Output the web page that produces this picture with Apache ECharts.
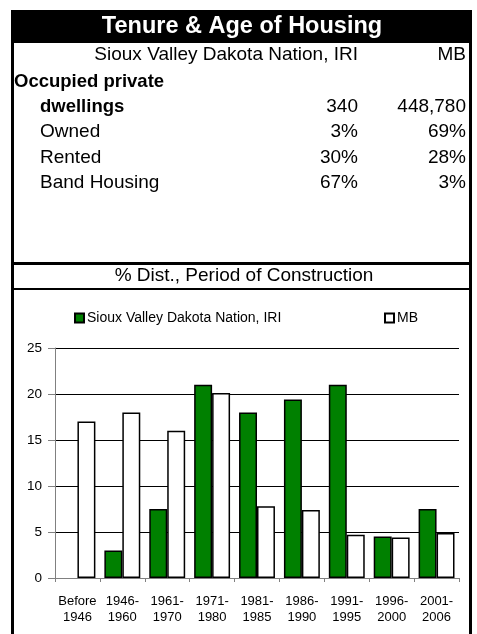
<!DOCTYPE html>
<html>
<head>
<meta charset="utf-8">
<script src="https://cdn.jsdelivr.net/npm/echarts@6/dist/echarts.min.js"></script>
<style>
html,body{margin:0;padding:0;background:#fff;}
#c{width:477px;height:634px;}
</style>
</head>
<body>
<div id="c"></div>
<script>
// ---- Data ----
var title = 'Tenure & Age of Housing';
var colHeaders = ['Sioux Valley Dakota Nation, IRI', 'MB'];
var rowLabels = ['Owned', 'Rented', 'Band Housing'];
var dwellings = ['340', '448,780'];
var localShares = ['3%', '30%', '67%'];
var mbShares = ['69%', '28%', '3%'];
var chartTitle = '% Dist., Period of Construction';
var categories = ['Before\n1946', '1946-\n1960', '1961-\n1970', '1971-\n1980', '1981-\n1985', '1986-\n1990', '1991-\n1995', '1996-\n2000', '2001-\n2006'];
var seriesNames = ['Sioux Valley Dakota Nation, IRI', 'MB'];
var localValues = [0, 3, 7.5, 21, 18, 19.4, 21, 4.5, 7.5];
var mbValues = [17, 18, 16, 20.1, 7.8, 7.4, 4.7, 4.4, 4.9];
var yTicks = [0, 5, 10, 15, 20, 25];

var FONT = '"Liberation Sans", Arial, sans-serif';
var chart = echarts.init(document.getElementById('c'), null, {renderer: 'canvas'});

var graphics = [];
function txt(x, y, s, opts) {
  opts = opts || {};
  graphics.push({
    type: 'text', x: x, y: y, silent: true,
    style: {
      text: s, x: 0, y: 0,
      fill: opts.fill || '#000',
      font: (opts.bold ? 'bold ' : '') + (opts.size || 19) + 'px ' + FONT,
      textAlign: opts.align || 'left', textVerticalAlign: 'middle'
    }
  });
}
function line(x1, y1, x2, y2, w) {
  graphics.push({type: 'line', silent: true, shape: {x1: x1, y1: y1, x2: x2, y2: y2}, style: {stroke: '#000', lineWidth: w}});
}
// frame
graphics.push({type: 'rect', silent: true, shape: {x: 11, y: 10, width: 461, height: 33}, style: {fill: '#000'}});
line(12.5, 40, 12.5, 634, 3);
line(470.5, 40, 470.5, 634, 3);
line(11, 263.5, 472, 263.5, 3);
line(11, 289, 472, 289, 2);
// title and table
txt(242, 27, title, {bold: true, size: 23.5, fill: '#fff', align: 'center'});
txt(358, 55, colHeaders[0], {align: 'right'});
txt(466, 55, colHeaders[1], {align: 'right'});
txt(14, 82, 'Occupied private', {bold: true, size: 18.5});
txt(40, 107, 'dwellings', {bold: true, size: 18.5});
txt(358, 107, dwellings[0], {align: 'right'});
txt(466, 107, dwellings[1], {align: 'right'});
for (var i = 0; i < rowLabels.length; i++) {
  var yy = 132 + i * 25.3;
  txt(40, yy, rowLabels[i]);
  txt(358, yy, localShares[i], {align: 'right'});
  txt(466, yy, mbShares[i], {align: 'right'});
}
txt(244, 276, chartTitle, {align: 'center'});

function barData(arr) {
  return arr.map(function (v) {
    return v === 0 ? {value: v, itemStyle: {borderWidth: 0}} : v;
  });
}

var option = {
  animation: false,
  textStyle: {fontFamily: FONT},
  legend: [
    {data: [seriesNames[0]], left: 69, top: 306, itemWidth: 9, itemHeight: 9, icon: 'rect',
     textStyle: {fontSize: 14, color: '#000', fontFamily: FONT, padding: [0, 0, 0, -2]}},
    {data: [seriesNames[1]], left: 379, top: 306, itemWidth: 9, itemHeight: 9, icon: 'rect',
     textStyle: {fontSize: 14, color: '#000', fontFamily: FONT, padding: [0, 0, 0, -2]}}
  ],
  grid: {left: 55, right: 18, top: 348, bottom: 56, containLabel: false},
  xAxis: {
    type: 'category', data: categories,
    axisLine: {lineStyle: {color: '#808080', width: 1}},
    axisTick: {show: true, length: 4, lineStyle: {color: '#808080'}},
    axisLabel: {color: '#000', fontSize: 13, fontFamily: FONT, lineHeight: 16, margin: 15, interval: 0}
  },
  yAxis: {
    type: 'value', min: yTicks[0], max: yTicks[yTicks.length - 1], interval: yTicks[1] - yTicks[0],
    axisLine: {show: true, lineStyle: {color: '#808080', width: 1}},
    axisTick: {show: true, length: 7, lineStyle: {color: '#808080'}},
    axisLabel: {color: '#000', fontSize: 13.5, fontFamily: FONT, margin: 13},
    splitLine: {show: true, lineStyle: {color: '#000', width: 1}}
  },
  series: [
    {name: seriesNames[0], type: 'bar', data: barData(localValues), barGap: '0%', barCategoryGap: '20%',
     itemStyle: {color: '#008000', borderColor: '#000', borderWidth: 1.5}},
    {name: seriesNames[1], type: 'bar', data: barData(mbValues), barGap: '0%', barCategoryGap: '20%',
     itemStyle: {color: '#fff', borderColor: '#000', borderWidth: 1.5}}
  ],
  graphic: graphics
};
chart.setOption(option);
</script>
</body>
</html>
